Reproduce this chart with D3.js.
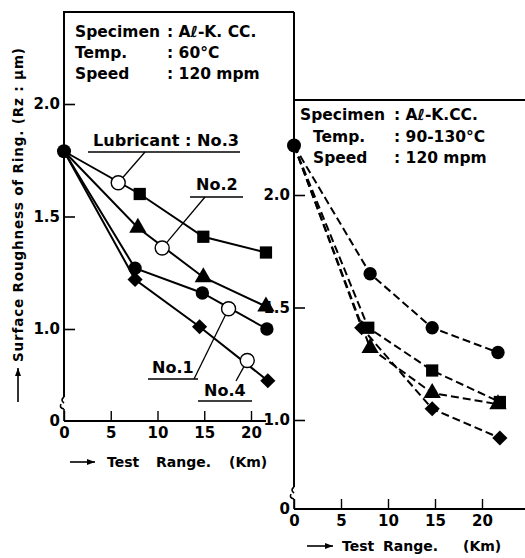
<!DOCTYPE html>
<html>
<head>
<meta charset="utf-8">
<script src="https://cdnjs.cloudflare.com/ajax/libs/d3/7.8.5/d3.min.js"></script>
<style>
  body { margin: 0; background: #fff; }
  svg text { font-family: "DejaVu Sans", sans-serif; font-weight: bold; fill: #000; }
</style>
</head>
<body>
<div id="chart"></div>
<script>
// Surface roughness vs test range, two panels

// tick values
const xTicks = [0, 5, 10, 15, 20];
const yTicks = [1.0, 1.5, 2.0];

// left panel (60°C), solid lines
const leftStart = [0, 1.79];
const leftNo3 = [[0, 1.79], [8.1, 1.60], [14.9, 1.41], [21.6, 1.34]];
const leftNo2 = [[0, 1.79], [7.9, 1.45], [14.9, 1.23], [21.6, 1.10]];
const leftNo1 = [[0, 1.79], [7.6, 1.27], [14.8, 1.16], [21.7, 1.00]];
const leftNo4 = [[0, 1.79], [7.6, 1.22], [14.5, 1.01], [21.8, 0.77]];
// open circles used as label pointers
const labelNames = ['Lubricant : No.3', 'No.2', 'No.1', 'No.4'];
const labelPoints = [[5.8, 1.65], [10.5, 1.36], [17.6, 1.09], [19.6, 0.86]];

// right panel (90-130°C), dashed lines
const rightStart = [0, 2.22];
const rightCircle = [[0, 2.22], [8.1, 1.65], [14.7, 1.41], [21.7, 1.30]];
const rightSquare = [[0, 2.22], [7.9, 1.41], [14.7, 1.22], [21.9, 1.08]];
const rightTriangle = [[0, 2.22], [8.1, 1.32], [14.7, 1.12], [21.7, 1.07]];
const rightDiamond = [[0, 2.22], [7.2, 1.41], [14.7, 1.05], [21.9, 0.92]];

const W = 525, H = 558;
const tickFont = '"Liberation Sans", Arial, sans-serif';
const svg = d3.select('#chart').append('svg')
    .attr('width', W).attr('height', H);

const shapes = {
    circle: d3.symbol().type(d3.symbolCircle).size(140),
    square: d3.symbol().type(d3.symbolSquare).size(150),
    triangle: d3.symbol().type(d3.symbolTriangle).size(130),
    diamond: d3.symbol().type(d3.symbolSquare).size(115)
};

function drawPanel(opt) {
    const { x, y, top, axisBottom, breakY, dashed, series, start } = opt;
    const g = svg.append('g');
    const x0 = x.range()[0];

    // y axis line with break
    g.append('line').attr('x1', x0).attr('x2', x0).attr('y1', top).attr('y2', breakY)
        .attr('stroke', '#000').attr('stroke-width', 2);
    g.append('path')
        .attr('d', `M${x0},${breakY} q-4,3 0,6 M${x0},${breakY + 12} q-5,-1 -3,-5 M${x0},${breakY + 12} L${x0},${axisBottom}`)
        .attr('fill', 'none').attr('stroke', '#000').attr('stroke-width', 1.6);

    const yAxis = d3.axisLeft(y).tickValues(yTicks).tickSize(-11).tickPadding(4)
        .tickFormat(d3.format('.1f'));
    g.append('g').attr('transform', `translate(${x0},0)`).call(yAxis)
        .call(s => s.select('.domain').remove())
        .call(s => s.selectAll('line').attr('stroke-width', 1.6))
        .call(s => s.selectAll('text').attr('font-size', 15)
            .attr('font-family', tickFont).attr('font-weight', 'bold'));

    // x axis
    const xAxis = d3.axisBottom(x).tickValues(xTicks).tickSize(-10).tickPadding(6);
    g.append('g').attr('transform', `translate(0,${axisBottom})`).call(xAxis)
        .call(s => s.select('.domain').attr('d', `M${x0},0H${opt.xEnd}`).attr('stroke-width', 2))
        .call(s => s.selectAll('line').attr('stroke-width', 1.4))
        .call(s => s.selectAll('text').attr('font-size', 15)
            .attr('font-family', tickFont).attr('font-weight', 'bold'));

    // "0" at origin of the broken y axis
    g.append('text').attr('x', x0 - 4).attr('y', axisBottom + 5)
        .attr('text-anchor', 'end').attr('font-size', 15).attr('font-family', tickFont).text('0');

    const line = d3.line().x(d => x(d[0])).y(d => y(d[1]));
    series.forEach(s => {
        g.append('path').datum(s.data).attr('d', line)
            .attr('fill', 'none').attr('stroke', '#000').attr('stroke-width', 2)
            .attr('stroke-dasharray', dashed ? '8,4' : null);
    });
    series.forEach(s => {
        g.selectAll(null).data(s.data.slice(1)).join('path')
            .attr('d', shapes[s.shape])
            .attr('transform', d => `translate(${x(d[0])},${y(d[1])})` + (s.shape === 'diamond' ? ' rotate(45)' : ''))
            .attr('fill', '#000');
    });
    g.append('circle').attr('cx', x(start[0])).attr('cy', y(start[1])).attr('r', 7).attr('fill', '#000');
    return g;
}

// ---------- left panel ----------
const xL = d3.scaleLinear().domain([0, 20]).range([64, 251]);
const yL = d3.scaleLinear().domain([1, 2]).range([329, 104]);
const gL = drawPanel({
    x: xL, y: yL, top: 12, axisBottom: 421, breakY: 397, xEnd: 266, dashed: false, start: leftStart,
    series: [
        { data: leftNo3, shape: 'square' },
        { data: leftNo2, shape: 'triangle' },
        { data: leftNo1, shape: 'circle' },
        { data: leftNo4, shape: 'diamond' }
    ]
});
// frame top
gL.append('line').attr('x1', 63).attr('x2', 294).attr('y1', 12).attr('y2', 12)
    .attr('stroke', '#000').attr('stroke-width', 2);

// info text
const info = (g, xa, xb, ys, rows, size) => {
    rows.forEach((r, i) => {
        g.append('text').attr('x', r[2] !== undefined ? r[2] : xa).attr('y', ys[i]).attr('font-size', size).text(r[0]);
        g.append('text').attr('x', xb).attr('y', ys[i]).attr('font-size', size).text(r[1]);
    });
};
info(gL, 75, 167, [37, 58, 79], [
    ['Specimen', ': Aℓ-K. CC.'], ['Temp.', ': 60°C'], ['Speed', ': 120 mpm']
], 15.5);

// label pointers (open circles + leaders + underlined labels)
const labelLayout = [
    { tx: 93, ty: 146, ul: [88, 240, 152], leader: [145, 152], len: 146 },
    { tx: 196, ty: 190, ul: [190, 243, 197], leader: [205, 197] },
    { tx: 152, ty: 373, ul: [148, 198, 379], leader: [194, 379] },
    { tx: 204, ty: 396, ul: [198, 252, 401], leader: [236, 381] }
];
labelPoints.forEach((p, i) => {
    const L = labelLayout[i];
    const cx = xL(p[0]), cy = yL(p[1]);
    const dx = L.leader[0] - cx, dy = L.leader[1] - cy;
    const len = Math.hypot(dx, dy);
    gL.append('line').attr('x1', L.leader[0]).attr('y1', L.leader[1])
        .attr('x2', cx + dx / len * 7).attr('y2', cy + dy / len * 7)
        .attr('stroke', '#000').attr('stroke-width', 1.3);
    gL.append('circle').attr('cx', cx).attr('cy', cy).attr('r', 7)
        .attr('fill', '#fff').attr('stroke', '#000').attr('stroke-width', 1.4);
    gL.append('line').attr('x1', L.ul[0]).attr('x2', L.ul[1]).attr('y1', L.ul[2]).attr('y2', L.ul[2])
        .attr('stroke', '#000').attr('stroke-width', 1.6);
    const t = gL.append('text').attr('x', L.tx).attr('y', L.ty).attr('font-size', 16).text(labelNames[i]);
    if (L.len) t.attr('textLength', L.len).attr('lengthAdjust', 'spacingAndGlyphs');
});

// y axis title
svg.append('text').attr('transform', 'translate(23,362) rotate(-90)')
    .attr('font-size', 13.5).attr('textLength', 314).attr('lengthAdjust', 'spacing')
    .text('Surface  Roughness  of  Ring. (Rz : μm)');
const arrow = (x1, y1, x2, y2) => {
    svg.append('line').attr('x1', x1).attr('y1', y1).attr('x2', x2).attr('y2', y2)
        .attr('stroke', '#000').attr('stroke-width', 1.6);
    const a = Math.atan2(y2 - y1, x2 - x1);
    const p = [[x2, y2], [x2 - 8 * Math.cos(a) + 3 * Math.sin(a), y2 - 8 * Math.sin(a) - 3 * Math.cos(a)],
               [x2 - 8 * Math.cos(a) - 3 * Math.sin(a), y2 - 8 * Math.sin(a) + 3 * Math.cos(a)]];
    svg.append('path').attr('d', 'M' + p.join('L') + 'Z').attr('fill', '#000');
};
arrow(18, 402, 18, 368);

// x titles, word by word
const xTitle = (y, words) => {
    const t = svg.append('text').attr('y', y).attr('font-size', 14);
    words.forEach(w => t.append('tspan').attr('x', w[1]).text(w[0]));
};
arrow(70, 462, 95, 462);
xTitle(467, [['Test', 107], ['Range.', 156], ['(Km)', 229]]);

// ---------- right panel ----------
const xR = d3.scaleLinear().domain([0, 20]).range([294, 482]);
const yR = d3.scaleLinear().domain([1, 2]).range([420, 195]);
const gR = drawPanel({
    x: xR, y: yR, top: 12, axisBottom: 509, breakY: 487, xEnd: 525, dashed: true, start: rightStart,
    series: [
        { data: rightCircle, shape: 'circle' },
        { data: rightSquare, shape: 'square' },
        { data: rightTriangle, shape: 'triangle' },
        { data: rightDiamond, shape: 'diamond' }
    ]
});
gR.append('line').attr('x1', 293).attr('x2', 525).attr('y1', 100).attr('y2', 100)
    .attr('stroke', '#000').attr('stroke-width', 2);
info(gR, 313, 394, [120, 142, 163], [
    ['Specimen', ': Aℓ-K.CC.', 300], ['Temp.', ': 90-130°C'], ['Speed', ': 120 mpm']
], 15.5);

arrow(307, 546, 333, 546);
xTitle(551, [['Test', 342], ['Range.', 383], ['(Km)', 463]]);
</script>
</body>
</html>
